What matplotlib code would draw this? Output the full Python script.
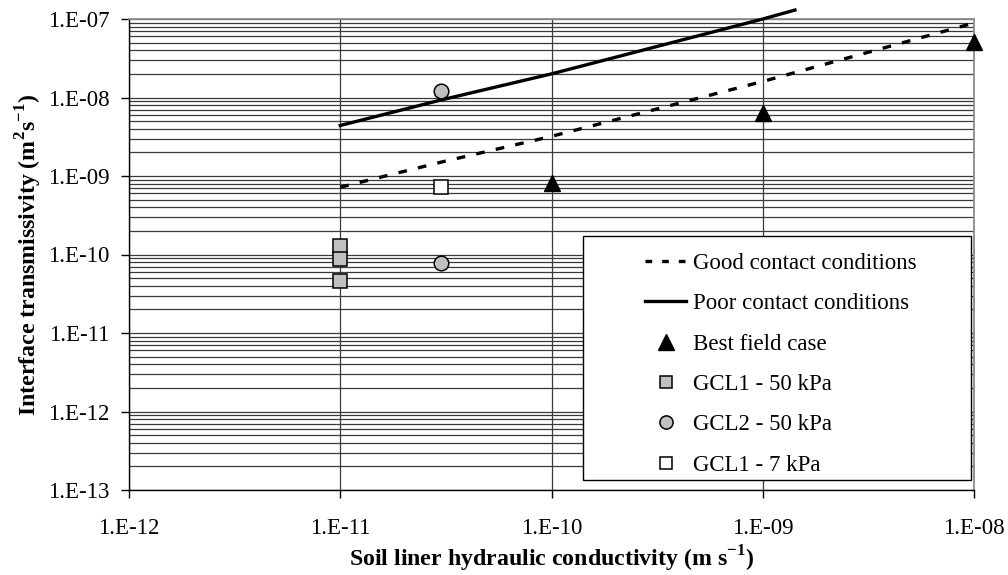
import numpy as np
import matplotlib
matplotlib.use("Agg")
import matplotlib.pyplot as plt
from matplotlib.lines import Line2D
from matplotlib.patches import Rectangle
from matplotlib.ticker import FixedLocator, LogLocator, NullFormatter

plt.rcParams['font.family'] = ['Liberation Serif', 'DejaVu Serif']
plt.rcParams['mathtext.fontset'] = 'custom'
plt.rcParams['mathtext.rm'] = 'Liberation Serif'
plt.rcParams['mathtext.bf'] = 'Liberation Serif:bold'

# model lines
good_k = [1e-11, 3e-11, 1e-10, 1e-9, 1e-8]
good_t = [7.2e-10, 1.5e-9, 3.2e-9, 1.6e-8, 8.9e-8]
poor_k = [1e-11, 3e-11, 1e-10, 1e-9, 1.42e-9]
poor_t = [4.4e-9, 9.3e-9, 2.0e-8, 1.0e-7, 1.3e-7]

# measured points
field_k = [1e-10, 1e-9, 1e-8]
field_t = [8.1e-10, 6.3e-9, 5.1e-8]
gcl1_50_k = [1e-11, 1e-11, 1e-11]
gcl1_50_t = [1.3e-10, 8.7e-11, 4.6e-11]
gcl2_50_k = [3e-11, 3e-11]
gcl2_50_t = [1.2e-8, 7.9e-11]
gcl1_7_k = [3e-11]
gcl1_7_t = [7.2e-10]

xticks = [1e-12, 1e-11, 1e-10, 1e-9, 1e-8]
xlabels = ['1.E-12', '1.E-11', '1.E-10', '1.E-09', '1.E-08']
yticks = [1e-13, 1e-12, 1e-11, 1e-10, 1e-9, 1e-8, 1e-7]
ylabels = ['1.E-13', '1.E-12', '1.E-11', '1.E-10', '1.E-09', '1.E-08', '1.E-07']

fs = 16.5
fig = plt.figure(figsize=(10.08, 5.75), dpi=100)
ax = fig.add_axes([129/1008, 1-490/575, 845/1008, 471/575])
ax.set_xscale('log')
ax.set_yscale('log')
ax.set_xlim(1e-12, 1e-8)
ax.set_ylim(1e-13, 1e-7)

ax.xaxis.set_major_locator(FixedLocator(xticks))
ax.set_xticklabels(xlabels)
ax.xaxis.set_minor_locator(FixedLocator([]))
ax.yaxis.set_major_locator(FixedLocator(yticks))
ax.set_yticklabels(ylabels)
ax.yaxis.set_minor_locator(LogLocator(base=10, subs=np.arange(2, 10)))
ax.yaxis.set_minor_formatter(NullFormatter())
ax.tick_params(axis='both', which='major', direction='out', length=6, width=1,
               labelsize=fs)
ax.tick_params(axis='x', which='major', pad=14)
ax.tick_params(axis='y', which='major', pad=8)
ax.tick_params(axis='y', which='minor', length=0)

ax.grid(True, which='major', axis='both', color='#3a3a3a', linewidth=0.9)
ax.grid(True, which='minor', axis='y', color='#3a3a3a', linewidth=0.9)
ax.set_axisbelow(True)

for s in ['top', 'right']:
    ax.spines[s].set_color('#8c8c8c')
    ax.spines[s].set_linewidth(1.3)
for s in ['left', 'bottom']:
    ax.spines[s].set_color('black')
    ax.spines[s].set_linewidth(1.0)

ax.plot(good_k, good_t, color='black', lw=2.4, ls=(0, (2.6, 3.4)), zorder=3)
ax.plot(poor_k, poor_t, color='black', lw=2.4, clip_on=False, zorder=3)
ax.plot(field_k, field_t, ls='none', marker='^', ms=12, color='black', clip_on=False, zorder=4)
ax.plot(gcl1_50_k, gcl1_50_t, ls='none', marker='s', ms=10, mfc='#c0c0c0', mec='black', mew=1.1, zorder=4)
ax.plot(gcl2_50_k, gcl2_50_t, ls='none', marker='o', ms=10.5, mfc='#c0c0c0', mec='black', mew=1.1, zorder=4)
ax.plot(gcl1_7_k, gcl1_7_t, ls='none', marker='s', ms=10, mfc='white', mec='black', mew=1.1, zorder=4)

# x label placed by baseline so the superscript and ")" stay inside the figure
fig.text((129 + 845/2)/1008, 1 - 567/575,
         'Soil liner hydraulic conductivity (m s$^{\\mathbf{-1}}$)',
         fontsize=17.2, fontweight='bold', ha='center', va='baseline')
ax.set_ylabel('Interface transmissivity (m$^{\\mathbf{2}}$s$^{\\mathbf{-1}}$)', fontsize=17.2,
              fontweight='bold', labelpad=3)

# legend frame
ax.add_patch(Rectangle((0.537, 0.021), 0.459, 0.518, transform=ax.transAxes,
                       facecolor='white', edgecolor='black', lw=1.0, zorder=5))
handles = [
    Line2D([], [], color='black', lw=2.4, ls=(0, (2, 3))),
    Line2D([], [], color='black', lw=2.4),
    Line2D([], [], ls='none', marker='^', ms=11, color='black'),
    Line2D([], [], ls='none', marker='s', ms=9, mfc='#c0c0c0', mec='black', mew=1.1),
    Line2D([], [], ls='none', marker='o', ms=9.5, mfc='#c0c0c0', mec='black', mew=1.1),
    Line2D([], [], ls='none', marker='s', ms=9, mfc='white', mec='black', mew=1.1),
]
names = ['Good contact conditions', 'Poor contact conditions', 'Best field case',
         'GCL1 - 50 kPa', 'GCL2 - 50 kPa', 'GCL1 - 7 kPa']
leg = ax.legend(handles, names, loc='upper left', bbox_to_anchor=(0.6106, 0.503),
                frameon=False, fontsize=fs, handlelength=1.8, handletextpad=0.3,
                labelspacing=0.84, borderpad=0, borderaxespad=0)
leg.set_zorder(6)

fig.savefig('out.png', dpi=100)
